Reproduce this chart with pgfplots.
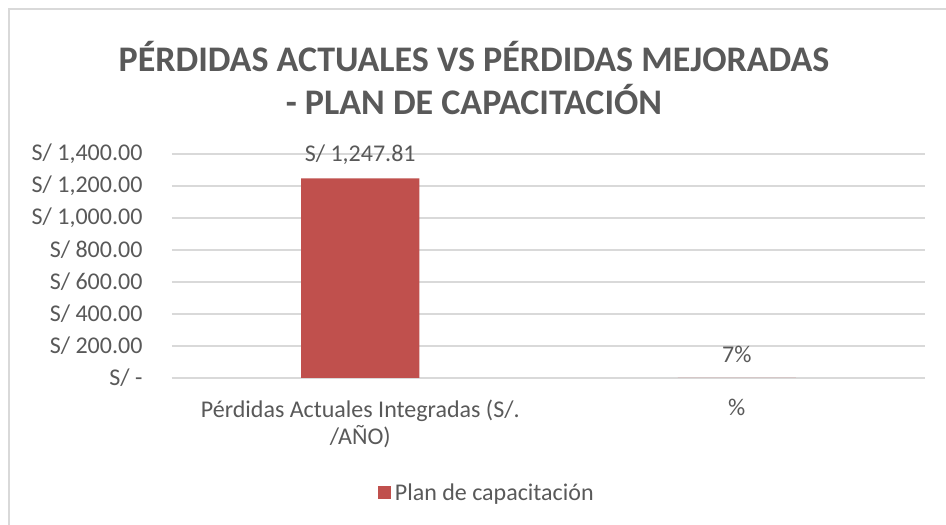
\documentclass[border=0pt]{standalone}
\usepackage{pgfplots}
\pgfplotsset{compat=1.18}
\usepackage{fontspec}
\setmainfont{Carlito}
\definecolor{txt}{HTML}{595959}
\definecolor{grid}{HTML}{D9D9D9}
\definecolor{bar}{HTML}{C0504D}
\begin{document}
\begin{tikzpicture}[x=1pt,y=1pt]
\useasboundingbox (0,0) rectangle (946,525);
\fill[white] (0,0) rectangle (946,525);
\draw[grid, line width=1.5pt] (9,0) -- (9,516) -- (946,516);
\node[text=txt, font=\fontsize{36}{43}\selectfont\bfseries, align=center] at (474,447) {PÉRDIDAS ACTUALES VS PÉRDIDAS MEJORADAS\\- PLAN DE CAPACITACIÓN};
\begin{axis}[
  at={(172pt,147pt)}, anchor=south west,
  scale only axis, width=753pt, height=224pt,
  xmin=-0.5, xmax=1.5, ymin=0, ymax=1400,
  axis x line=bottom, axis y line=left,
  axis line style={-},
  x axis line style={draw=grid, line width=1.5pt},
  y axis line style={draw=none},
  ymajorgrids=true, xmajorgrids=false,
  grid style={draw=grid, line width=1.5pt},
  ytick={0,200,400,600,800,1000,1200,1400},
  yticklabels={{S/ -\hspace{11pt}},{S/ 200.00},{S/ 400.00},{S/ 600.00},{S/ 800.00},{S/ 1,000.00},{S/ 1,200.00},{S/ 1,400.00}},
  xtick={0,1},
  xticklabels={{Pérdidas Actuales Integradas (S/.\\/AÑO)},{\%}},
  major tick length=0pt,
  tick label style={font=\fontsize{24}{27}\selectfont, text=txt},
  yticklabel style={anchor=east, xshift=-26pt},
  xticklabel style={align=center, anchor=north, yshift=-18pt},
  legend style={at={(0.418,-0.513)}, anchor=center, draw=none, fill=none, font=\fontsize{24}{27}\selectfont, text=txt, legend cell align=left},
  legend image code/.code={\fill[bar] (0pt,-6.5pt) rectangle (13pt,6.5pt);},
  clip=false,
]
\addplot[ybar, bar width=118pt, fill=bar, draw=none,
  point meta=explicit symbolic,
  nodes near coords,
  nodes near coords style={anchor=center, yshift=24pt, font=\fontsize{24}{27}\selectfont, text=txt}]
  table[meta=label, col sep=semicolon] {
x;y;label
0;1247.81;S/ 1,247.81
1;0.07;7\%
};
\addlegendentry{\hspace{2pt}Plan de capacitación}
\end{axis}
\end{tikzpicture}
\end{document}
